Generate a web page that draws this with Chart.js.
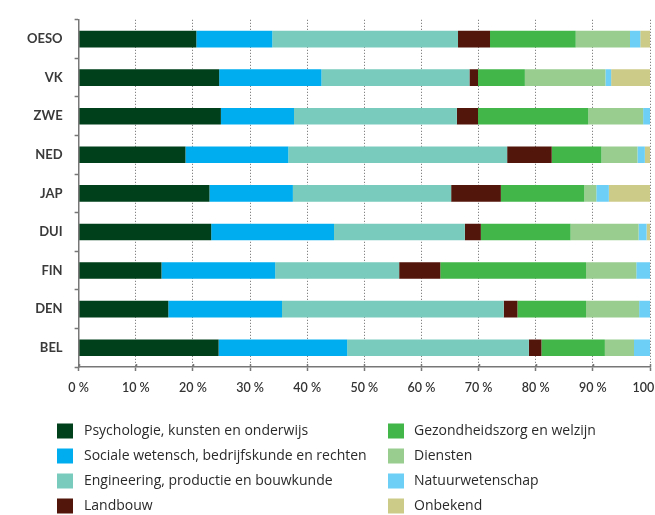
<!DOCTYPE html>
<html>
<head>
<meta charset="utf-8">
<script src="https://cdn.jsdelivr.net/npm/chart.js@4.4.1/dist/chart.umd.min.js"></script>
<style>
  html, body { margin: 0; padding: 0; background: #fff; }
  #wrap { width: 655px; height: 515px; position: relative; }
</style>
</head>
<body>
<div id="wrap"><canvas id="studieChart"></canvas></div>
<script>
// Landen (van boven naar onder)
const countries = ['OESO', 'VK', 'ZWE', 'NED', 'JAP', 'DUI', 'FIN', 'DEN', 'BEL'];

// Aandeel per studierichting (%)
const psychologie  = [20.6, 24.6, 24.9, 18.7, 22.9, 23.2, 14.5, 15.7, 24.5];
const sociale      = [13.3, 17.9, 12.8, 18.0, 14.6, 21.5, 19.9, 19.9, 22.5];
const engineering  = [32.5, 25.9, 28.5, 38.3, 27.7, 22.9, 21.7, 38.8, 31.8];
const landbouw     = [5.6, 1.5, 3.7, 7.8, 8.7, 2.8, 7.2, 2.4, 2.2];
const gezondheid   = [15.0, 8.2, 19.3, 8.7, 14.6, 15.7, 25.5, 12.0, 11.1];
const diensten     = [9.5, 14.1, 9.6, 6.3, 2.1, 11.9, 8.8, 9.3, 5.1];
const natuur       = [1.8, 1.0, 1.2, 1.3, 2.2, 1.4, 2.4, 1.9, 2.8];
const onbekend     = [1.7, 6.8, 0, 0.9, 7.2, 0.6, 0, 0, 0];

const xTicks = [0, 10, 20, 30, 40, 50, 60, 70, 80, 90, 100];

const series = [
  { label: 'Psychologie, kunsten en onderwijs', data: psychologie, color: '#00401b' },
  { label: 'Sociale wetensch, bedrijfskunde en rechten', data: sociale, color: '#00aeef' },
  { label: 'Engineering, productie en bouwkunde', data: engineering, color: '#79cbbd' },
  { label: 'Landbouw', data: landbouw, color: '#53160b' },
  { label: 'Gezondheidszorg en welzijn', data: gezondheid, color: '#42b649' },
  { label: 'Diensten', data: diensten, color: '#98cd8f' },
  { label: 'Natuurwetenschap', data: natuur, color: '#6dcff6' },
  { label: 'Onbekend', data: onbekend, color: '#cccb88' }
];

const FONT = 'Lato, "Open Sans", sans-serif';
const LEGEND_FONT = '"Open Sans", sans-serif';

// Legend in two columns, drawn under the chart
const twoColumnLegend = {
  id: 'twoColumnLegend',
  afterDraw(chart) {
    const ctx = chart.ctx;
    ctx.save();
    ctx.font = '14px ' + LEGEND_FONT;
    ctx.textBaseline = 'middle';
    chart.data.datasets.forEach((ds, i) => {
      const col = i < 4 ? 0 : 1;
      const row = i % 4;
      const boxX = col === 0 ? 57 : 388;
      const textX = col === 0 ? 84 : 414;
      const cy = 431 + row * 25;
      ctx.fillStyle = ds.backgroundColor;
      ctx.fillRect(boxX, cy - 7.5, 16, 15);
      ctx.fillStyle = '#2a2a2a';
      ctx.fillText(ds.label, textX, cy);
    });
    ctx.restore();
  }
};

// Small tick marks above the x axis (the reference ticks cross the axis)
const crossTicks = {
  id: 'crossTicks',
  afterDraw(chart) {
    const x = chart.scales.x;
    const ctx = chart.ctx;
    ctx.save();
    ctx.strokeStyle = '#777';
    ctx.lineWidth = 1.5;
    x.ticks.forEach(t => {
      const px = Math.round(x.getPixelForValue(t.value)) + 0.5;
      ctx.beginPath();
      ctx.moveTo(px, x.top - 3);
      ctx.lineTo(px, x.top);
      ctx.stroke();
    });
    ctx.restore();
  }
};

new Chart(document.getElementById('studieChart'), {
  type: 'bar',
  data: {
    labels: countries,
    datasets: series.map(s => ({
      label: s.label,
      data: s.data,
      backgroundColor: s.color,
      borderWidth: 0,
      barPercentage: 0.43,
      categoryPercentage: 1.0
    }))
  },
  options: {
    indexAxis: 'y',
    responsive: true,
    maintainAspectRatio: false,
    animation: false,
    layout: {
      padding: { left: 15, right: 5, top: 15, bottom: 111 }
    },
    plugins: {
      legend: { display: false },
      tooltip: { enabled: false }
    },
    scales: {
      x: {
        stacked: true,
        min: 0,
        max: 100,
        afterBuildTicks(scale) {
          scale.ticks = xTicks.map(v => ({ value: v }));
        },
        afterFit(scale) {
          scale.paddingRight = 0;
        },
        ticks: {
          color: '#333',
          padding: 9,
          maxRotation: 0,
          font: { family: FONT, size: 12.5, weight: '600' },
          callback: v => v + ' %'
        },
        grid: {
          color: '#666',
          lineWidth: 1,
          drawOnChartArea: true,
          tickLength: 4,
          tickColor: '#777',
          tickWidth: 1.5
        },
        border: { display: true, color: '#777', width: 1.5, dash: [1, 2] }
      },
      y: {
        stacked: true,
        ticks: {
          color: '#3a3a3a',
          padding: 12,
          font: { family: FONT, size: 13, weight: 'bold' }
        },
        grid: {
          offset: true,
          drawOnChartArea: false,
          tickLength: 4,
          tickColor: '#777',
          tickWidth: 1.5
        },
        border: { display: true, color: '#777', width: 1.5, z: 1 }
      }
    }
  },
  plugins: [twoColumnLegend, crossTicks]
});
</script>
</body>
</html>
